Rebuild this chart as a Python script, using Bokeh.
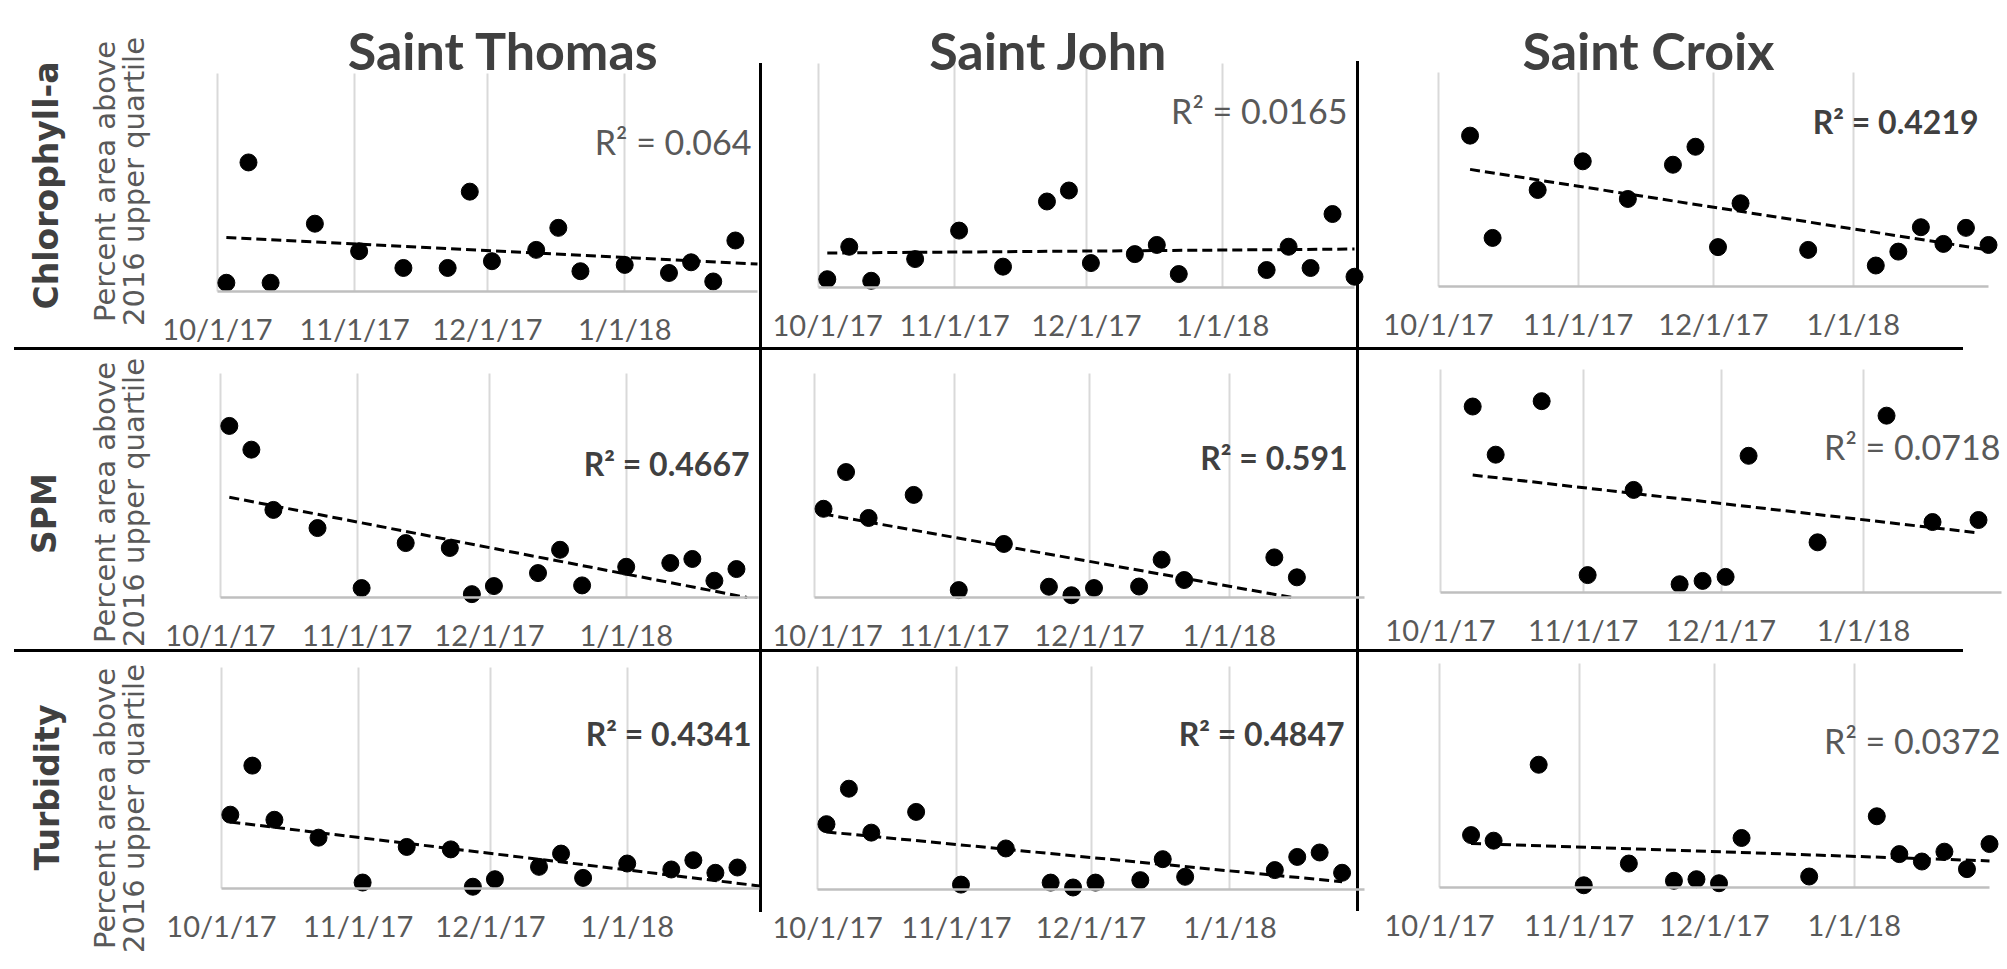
import math
import numpy as np
import pandas as pd
from bokeh.plotting import figure
from bokeh.models import FixedTicker, Label, Range1d, ColumnDataSource
from bokeh.layouts import row, column
from bokeh.embed import file_html
from bokeh.resources import INLINE

# ---------------- data ----------------
islands = ["Saint Thomas", "Saint John", "Saint Croix"]
variables = ["Chlorophyll-a", "SPM", "Turbidity"]
y_label_lines = ["Percent area above", "2016 upper quartile"]
tick_dates = ["2017-10-01", "2017-11-01", "2017-12-01", "2018-01-01"]
tick_labels = ["10/1/17", "11/1/17", "12/1/17", "1/1/18"]
axis_start = "2017-10-01"
axis_end = "2018-01-31"

st_dates = ["2017-10-03", "2017-10-08", "2017-10-13", "2017-10-23", "2017-11-02", "2017-11-12",
            "2017-11-22", "2017-11-27", "2017-12-02", "2017-12-12", "2017-12-17", "2017-12-22",
            "2018-01-01", "2018-01-11", "2018-01-16", "2018-01-21", "2018-01-26"]
st_chl = [4.0, 59.2, 4.0, 31.1, 18.5, 10.8, 10.8, 45.8, 13.9, 19.1, 29.2, 9.3, 12.2, 8.5, 13.4, 4.6, 23.4]
st_spm = [76.6, 66.0, 39.1, 31.0, 4.2, 24.3, 22.1, 1.5, 5.1, 10.9, 21.3, 5.4, 13.7, 15.4, 17.2, 7.5, 12.7]
st_turb = [33.4, 55.6, 31.1, 23.0, 2.7, 18.8, 17.7, 0.8, 4.2, 9.8, 15.8, 4.8, 11.3, 8.6, 12.8, 7.1, 9.5]

sj_chl_dates = ["2017-10-03", "2017-10-08", "2017-10-13", "2017-10-23", "2017-11-02", "2017-11-12",
                "2017-11-22", "2017-11-27", "2017-12-02", "2017-12-12", "2017-12-17", "2017-12-22",
                "2018-01-11", "2018-01-16", "2018-01-21", "2018-01-26", "2018-01-31"]
sj_chl = [3.7, 18.2, 3.0, 12.7, 25.4, 9.3, 38.4, 43.3, 10.9, 14.9, 19.0, 6.0, 7.8, 18.2, 8.7, 32.8, 4.8]
sj_spm_dates = ["2017-10-03", "2017-10-08", "2017-10-13", "2017-10-23", "2017-11-02", "2017-11-12",
                "2017-11-22", "2017-11-27", "2017-12-02", "2017-12-12", "2017-12-17", "2017-12-22",
                "2018-01-11", "2018-01-16"]
sj_spm = [39.6, 56.0, 35.5, 45.8, 3.3, 23.9, 4.8, 1.0, 4.2, 4.9, 16.9, 7.8, 17.9, 9.0]
sj_turb_dates = ["2017-10-03", "2017-10-08", "2017-10-13", "2017-10-23", "2017-11-02", "2017-11-12",
                 "2017-11-22", "2017-11-27", "2017-12-02", "2017-12-12", "2017-12-17", "2017-12-22",
                 "2018-01-11", "2018-01-16", "2018-01-21", "2018-01-26"]
sj_turb = [29.3, 45.2, 25.5, 34.8, 2.2, 18.4, 3.1, 0.9, 3.1, 4.2, 13.6, 5.7, 8.7, 14.6, 16.6, 7.5]

sc_chl_dates = ["2017-10-08", "2017-10-13", "2017-10-23", "2017-11-02", "2017-11-12", "2017-11-22",
                "2017-11-27", "2017-12-02", "2017-12-07", "2017-12-22", "2018-01-06", "2018-01-11",
                "2018-01-16", "2018-01-21", "2018-01-26", "2018-01-31"]
sc_chl = [70.5, 22.7, 45.1, 58.5, 40.9, 56.9, 65.3, 18.4, 38.9, 17.1, 9.8, 16.3, 27.7, 19.9, 27.4, 19.4]
sc_spm_dates = ["2017-10-08", "2017-10-13", "2017-10-23", "2017-11-02", "2017-11-12", "2017-11-22",
                "2017-11-27", "2017-12-02", "2017-12-07", "2017-12-22", "2018-01-06", "2018-01-16",
                "2018-01-26"]
sc_spm = [83.4, 61.8, 85.8, 7.8, 46.0, 3.7, 5.2, 7.0, 61.3, 22.5, 79.3, 31.6, 32.5]
sc_turb_dates = ["2017-10-08", "2017-10-13", "2017-10-23", "2017-11-02", "2017-11-12", "2017-11-22",
                 "2017-11-27", "2017-12-02", "2017-12-07", "2017-12-22", "2018-01-06", "2018-01-11",
                 "2018-01-16", "2018-01-21", "2018-01-26", "2018-01-31"]
sc_turb = [23.4, 20.9, 54.8, 1.0, 10.7, 3.0, 3.7, 1.9, 22.1, 4.9, 31.8, 14.9, 11.6, 16.0, 8.2, 19.4]

r2_text = [["R² = 0.064", "R² = 0.0165", "R² = 0.4219"],
           ["R² = 0.4667", "R² = 0.591", "R² = 0.0718"],
           ["R² = 0.4341", "R² = 0.4847", "R² = 0.0372"]]
r2_bold = [[False, False, True], [True, True, False], [True, True, False]]

series = [
    [(st_dates, st_chl), (sj_chl_dates, sj_chl), (sc_chl_dates, sc_chl)],
    [(st_dates, st_spm), (sj_spm_dates, sj_spm), (sc_spm_dates, sc_spm)],
    [(st_dates, st_turb), (sj_turb_dates, sj_turb), (sc_turb_dates, sc_turb)],
]

# ---------------- layout (pixels) ----------------
COL_X = [0, 772, 1372, 2007]
ROW_Y = [0, 355, 662, 969]
# (x of 10/1/17, x of 1/31/18, y of top of plot area, y of baseline) for each panel
GEOM = [[(217, 757, 73, 291), (818, 1354, 63, 287), (1438, 1988, 72, 286)],
        [(220, 758, 373, 597), (814, 1364, 373, 597), (1440, 2001, 369, 592)],
        [(221, 759, 667, 888), (817, 1364, 666, 889), (1439, 1989, 663, 887)]]
R2_POS = [[(69, -6), (79, -7), (77, -10)],
          [(60, -9), (62.5, -17), (65.5, -1)],
          [(70, -8), (70, -20), (65.6, 11)]]
TITLE_POS = [(503, 49), (1048, 49), (1648, 49)]
ROWLAB_POS = [(46, 185), (44, 513), (47, 787)]
YLAB_X = [104, 133]
YLAB_CY = [181, 502, 808]
TREND_FORWARD = [5, 0, 0]

DARK = "#404040"
GREY = "#595959"

X0 = pd.Timestamp(axis_start)
X1 = pd.Timestamp(axis_end)
SPAN_DAYS = (X1 - X0).days


def ms(ts):
    return float(pd.Timestamp(ts).value // 10**6)


tick_ms = [ms(t) for t in tick_dates]


def build_panel(r, c):
    dates, vals = series[r][c]
    oct1_px, end_px, top_px, base_px = GEOM[r][c]
    fx0, fx1 = COL_X[c], COL_X[c + 1]
    fy0, fy1 = ROW_Y[r], ROW_Y[r + 1]
    # the plot frame covers the whole canvas; ranges place the data area
    ppd = (end_px - oct1_px) / SPAN_DAYS
    days_before = (oct1_px - fx0) / ppd
    days_after = (fx1 - end_px) / ppd
    upp = 100.0 / (base_px - top_px)
    y_end = 100.0 + (top_px - fy0) * upp
    y_start = -(fy1 - base_px) * upp

    p = figure(width=fx1 - fx0, height=fy1 - fy0,
               x_range=Range1d(X0 - pd.Timedelta(days=days_before), X1 + pd.Timedelta(days=days_after)),
               y_range=Range1d(y_start, y_end),
               x_axis_type="datetime", y_axis_location=None,
               toolbar_location=None, output_backend="svg",
               min_border_left=0, min_border_right=0,
               min_border_top=0, min_border_bottom=0,
               background_fill_color=None, border_fill_color=None,
               outline_line_color=None)

    ax = p.xaxis[0]
    ax.ticker = FixedTicker(ticks=tick_ms)
    ax.major_label_overrides = {t: lab for t, lab in zip(tick_ms, tick_labels)}
    ax.fixed_location = 0
    ax.bounds = (ms(X0), ms(X1))
    ax.axis_line_color = "#bfbfbf"
    ax.axis_line_width = 2.5
    ax.major_tick_line_color = None
    ax.minor_tick_line_color = None
    ax.major_tick_out = 0
    ax.major_tick_in = 0
    ax.major_label_standoff = 19
    ax.major_label_text_font = "Lato"
    ax.major_label_text_font_size = "29px"
    ax.major_label_text_color = GREY

    for g in p.xgrid:
        g.grid_line_color = "#d9d9d9"
        g.grid_line_width = 2
        try:
            g.cross_bounds = (0, 100)
        except Exception:
            pass
    for g in p.ygrid:
        g.visible = False

    d = pd.to_datetime(dates)
    src = ColumnDataSource(dict(date=d, val=vals))

    # linear least-squares trend, dashed
    days = np.array([(t - X0).days for t in d], dtype=float)
    k, b = np.polyfit(days, np.array(vals, dtype=float), 1)
    t0 = days.min()
    t1 = min(days.max() + TREND_FORWARD[c], SPAN_DAYS)
    if k * t1 + b < 0 and k != 0:
        t1 = -b / k
    tx = [X0 + pd.Timedelta(days=float(t0)), X0 + pd.Timedelta(days=float(t1))]
    ty = [k * t0 + b, k * t1 + b]
    p.line(x=tx, y=ty, line_color="black", line_width=3, line_dash="10 5")

    p.scatter(x="date", y="val", source=src, size=17, color="black")

    ry, roff = R2_POS[r][c]
    bold = r2_bold[r][c]
    p.add_layout(Label(x=ms(X1), y=ry, x_offset=roff, text=r2_text[r][c],
                       text_align="right", text_baseline="middle",
                       text_font="Lato", text_font_size="32px" if bold else "34px",
                       text_font_style="bold" if bold else "normal",
                       text_color=DARK if bold else GREY))

    if r == 0:
        tx_, ty_ = TITLE_POS[c]
        p.add_layout(Label(x=tx_ - fx0, y=ty_ - fy0, x_units="canvas", y_units="canvas",
                           text=islands[c], text_align="center", text_baseline="middle",
                           text_font="Lato", text_font_size="52px", text_font_style="bold",
                           text_color=DARK))
    if c == 0:
        lx, ly = ROWLAB_POS[r]
        p.add_layout(Label(x=lx - fx0, y=ly - fy0, x_units="canvas", y_units="canvas",
                           text=variables[r], angle=math.pi / 2,
                           text_align="center", text_baseline="middle",
                           text_font="DejaVu Sans", text_font_size="33px",
                           text_font_style="bold", text_color=DARK))
        for i, line_text in enumerate(y_label_lines):
            p.add_layout(Label(x=YLAB_X[i] - fx0, y=YLAB_CY[r] - fy0,
                               x_units="canvas", y_units="canvas",
                               text=line_text, angle=math.pi / 2,
                               text_align="center", text_baseline="middle",
                               text_font="DejaVu Sans", text_font_size="29px",
                               text_color=GREY))
    return p


figs = [[build_panel(r, c) for c in range(3)] for r in range(3)]

sep_styles = {
    "background-color": "white",
    "background-image": ", ".join(["linear-gradient(#000, #000)"] * 4),
    "background-repeat": "no-repeat",
    "background-size": "3px 849px, 3px 850px, 1949px 3px, 1949px 3px",
    "background-position": "759px 63px, 1356px 61px, 14px 347px, 14px 649px",
}

layout = column(row(*figs[0]), row(*figs[1]), row(*figs[2]), styles=sep_styles)

open("out.html", "w").write(file_html(layout, INLINE))
